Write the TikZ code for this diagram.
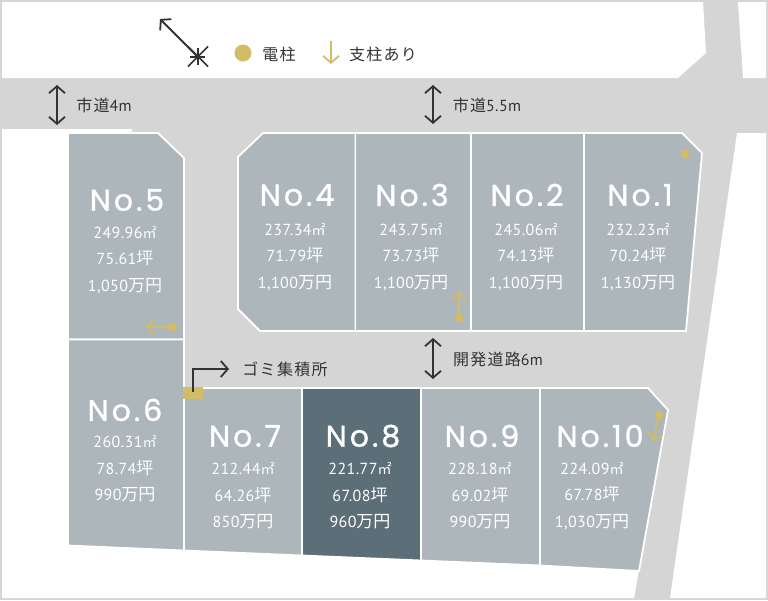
\documentclass[tikz,border=0pt]{standalone}
\usepackage{xcolor}
\usepackage{fontspec}
\usepackage{tikz}
\usetikzlibrary{arrows.meta}
\setmainfont[LetterSpace=2.5]{PT Sans}
\newfontfamily\cjk{Noto Sans CJK JP}
\newfontfamily\cjkwide[LetterSpace=8]{Noto Sans CJK JP}
\newfontfamily\lotfont[LetterSpace=10,FakeBold=1.2]{Poppins}
\definecolor{road}{HTML}{D5D5D5}
\definecolor{lotgray}{HTML}{ACB6BB}
\definecolor{lotdark}{HTML}{5C6F78}
\definecolor{gold}{HTML}{D2BC66}
\definecolor{ink}{HTML}{333333}
\tikzset{>=latex}
\tikzset{land/.style = {fill = white, draw = none}}
\tikzset{lot/.style = {fill = lotgray, draw = white, line width = 1.8pt, line join = miter}}
\tikzset{lotno/.style = {text = white, inner sep = 0pt, font = \lotfont\fontsize{30}{30}\selectfont}}
\tikzset{lotinfo/.style = {text = white, inner sep = 0pt, align = center, font = \fontsize{16}{26.5}\selectfont}}
\tikzset{label/.style = {text = ink, inner sep = 0pt, font = \fontsize{16}{16}\selectfont}}
\tikzset{dim/.style = {draw = ink, line width = 1.8pt, {Straight Barb[length = 7pt, width = 16pt]}-{Straight Barb[length = 7pt, width = 16pt]}}}
\tikzset{pointer/.style = {draw = ink, line width = 1.8pt, -{Straight Barb[length = 7pt, width = 16pt]}}}
\tikzset{pole/.style = {circle, fill = gold, inner sep = 0pt, minimum size = 9pt}}
\tikzset{stay/.style = {draw = gold, line width = 1.8pt, -{Straight Barb[length = 7pt, width = 16pt]}}}
\newcommand{\sqm}{{\fontsize{14}{26.5}\selectfont\cjk ㎡}}
\newcommand{\tsubo}{{\fontsize{17}{26.5}\selectfont\cjk 坪}}
\newcommand{\manen}{{\fontsize{17}{26.5}\selectfont\cjk 万円}}
\begin{document}
\begin{tikzpicture}[x = 1pt, y = -1pt]
\useasboundingbox (0, 0) rectangle (768, 600);
\fill [road] (0, 0) rectangle (768, 600);
% white land around the roads
\path [land] (2, 2) -- (703, 2) -- (706, 53) -- (678, 78) -- (2, 78) -- cycle;
\path [land] (738, 2) -- (766, 2) -- (766, 78) -- (743, 78) -- cycle;
\path [land] (737, 133) -- (766, 133) -- (766, 598) -- (670, 598) -- cycle;
\path [land] (2, 129) -- (132, 129) -- (132, 140) -- (100, 300) -- (183, 548) -- (639, 570) -- (634, 598) -- (2, 598) -- cycle;
% lots
\draw [lot] (68, 133) -- (158, 133) -- (184, 158) -- (184, 339.5) -- (68, 339.5) -- cycle;
\draw [lot] (68, 339.5) -- (184, 339.5) -- (184, 550.5) -- (68, 545.5) -- cycle;
\draw [lot] (263, 133) -- (355.5, 133) -- (355.5, 331) -- (260, 331) -- (238, 309) -- (238, 157) -- cycle;
\draw [lot] (355.5, 133) -- (471, 133) -- (471, 331) -- (355.5, 331) -- cycle;
\draw [lot] (471, 133) -- (584, 133) -- (584, 331) -- (471, 331) -- cycle;
\draw [lot] (584, 133) -- (682, 133) -- (702, 153) -- (686, 331) -- (584, 331) -- cycle;
\draw [lot] (184, 388) -- (302, 388) -- (302, 555.5) -- (184, 550.5) -- cycle;
\draw [lot, fill = lotdark] (302, 388) -- (421, 388) -- (421, 560.5) -- (302, 555.5) -- cycle;
\draw [lot] (421, 388) -- (540, 388) -- (540, 565.5) -- (421, 560.5) -- cycle;
\draw [lot] (540, 388) -- (648, 388) -- (668, 410) -- (639, 571) -- (540, 565.5) -- cycle;
% lot texts
\node [lotno] (no5) at (127, 200) {No.5};
\node [lotinfo] (info5) at (125, 260) {249.96\sqm\\75.61\tsubo\\1,050\manen};
\node [lotno] (no6) at (125, 410) {No.6};
\node [lotinfo] (info6) at (125, 469) {260.31\sqm\\78.74\tsubo\\990\manen};
\node [lotno] (no4) at (297, 195) {No.4};
\node [lotinfo] (info4) at (295, 257) {237.34\sqm\\71.79\tsubo\\1,100\manen};
\node [lotno] (no3) at (412, 195) {No.3};
\node [lotinfo] (info3) at (411, 257) {243.75\sqm\\73.73\tsubo\\1,100\manen};
\node [lotno] (no2) at (527, 195) {No.2};
\node [lotinfo] (info2) at (526, 257) {245.06\sqm\\74.13\tsubo\\1,100\manen};
\node [lotno] (no1) at (640, 195) {No.1};
\node [lotinfo] (info1) at (638, 257) {232.23\sqm\\70.24\tsubo\\1,130\manen};
\node [lotno] (no7) at (245, 436) {No.7};
\node [lotinfo] (info7) at (243, 496) {212.44\sqm\\64.26\tsubo\\850\manen};
\node [lotno] (no8) at (363, 436) {No.8};
\node [lotinfo] (info8) at (360, 496) {221.77\sqm\\67.08\tsubo\\960\manen};
\node [lotno] (no9) at (482, 436) {No.9};
\node [lotinfo] (info9) at (480, 496) {228.18\sqm\\69.02\tsubo\\990\manen};
\node [lotno] (no10) at (600, 436) {No.10};
\node [lotinfo] (info10) at (592, 496) {224.09\sqm\\67.78\tsubo\\1,030\manen};
% road widths
\coordinate (cityA) at (57, 85);
\coordinate (cityB) at (57, 125);
\draw [dim] (cityA) -- (cityB);
\node [label] (cityC) at (104, 105) {{\cjkwide 市道}4m};
\coordinate (wideA) at (433, 85);
\coordinate (wideB) at (433, 124);
\draw [dim] (wideA) -- (wideB);
\node [label] (wideC) at (487, 105) {{\cjkwide 市道}5.5m};
\coordinate (newA) at (433, 338);
\coordinate (newB) at (433, 379);
\draw [dim] (newA) -- (newB);
\node [label] (newC) at (498, 359) {{\cjkwide 開発道路}6m};
% garbage station
\node [rectangle, fill = gold, minimum width = 20pt, minimum height = 12pt, inner sep = 0pt] (trash) at (193, 393) {};
\coordinate (trashA) at (193, 392);
\coordinate (trashB) at (193, 369);
\coordinate (trashC) at (229, 369);
\draw [pointer] (trashA) -- (trashB) -- (trashC);
\node [label] (trashT) at (285, 369) {{\cjkwide ゴミ集積所}};
% legend
\coordinate (northA) at (198, 57);
\coordinate (northB) at (160, 19);
\draw [pointer] (northA) -- (northB);
\coordinate (starA) at (188, 46.5);
\coordinate (starB) at (208, 66.5);
\coordinate (starC) at (188, 66.5);
\coordinate (starD) at (208, 46.5);
\coordinate (starE) at (198, 48);
\coordinate (starF) at (198, 65);
\coordinate (starG) at (190, 57);
\coordinate (starH) at (205, 57);
\draw [ink, line width = 1.6pt] (starA) -- (starB);
\draw [ink, line width = 1.6pt] (starC) -- (starD);
\draw [ink, line width = 1.6pt] (starE) -- (starF);
\draw [ink, line width = 1.6pt] (starG) -- (starH);
\node [pole, minimum size = 17pt] (poleL) at (243, 53) {};
\node [label] (poleT) at (279, 54) {{\cjkwide 電柱}};
\coordinate (stayA) at (331, 41);
\coordinate (stayB) at (331, 64);
\draw [stay] (stayA) -- (stayB);
\node [label] (stayT) at (383, 54) {{\cjkwide 支柱あり}};
% poles on the lots
\node [pole] (pole1) at (685, 154) {};
\node [pole] (pole3) at (459, 318) {};
\coordinate (tip3) at (459, 292);
\draw [stay] (pole3.center) -- (tip3);
\node [pole] (pole5) at (172.5, 327) {};
\coordinate (tip5) at (146, 327);
\draw [stay] (pole5.center) -- (tip5);
\node [pole] (pole10) at (659, 415) {};
\coordinate (tip10) at (653, 441);
\draw [stay] (pole10.center) -- (tip10);
\end{tikzpicture}
\end{document}
